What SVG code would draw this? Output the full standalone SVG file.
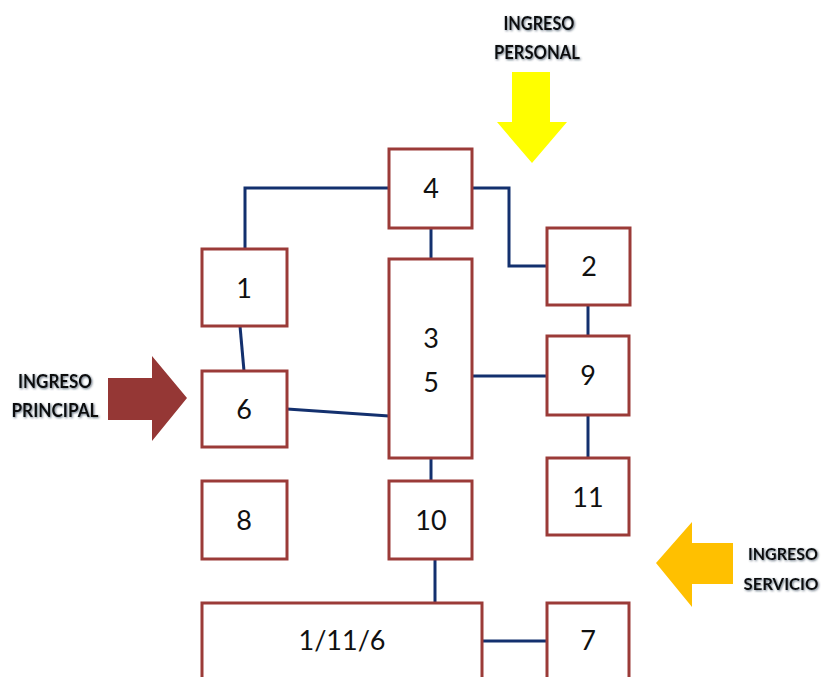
<svg xmlns="http://www.w3.org/2000/svg" width="826" height="677" viewBox="0 0 826 677">
<defs>
<style>
.box{fill:#fff;stroke:#9B3B38;stroke-width:3}
.lbl{font-family:Lato,"Open Sans","Liberation Sans",sans-serif;font-size:27px;fill:#111;text-anchor:middle}
.con{fill:none;stroke:#13306E;stroke-width:3}
.tag{font-family:Lato,"Liberation Sans",sans-serif;font-weight:bold;font-size:19px;fill:#111;text-anchor:middle;filter:url(#sh)}
.sm{font-size:17px}
</style>
<filter id="sh" x="-4%" y="-20%" width="108%" height="140%">
<feDropShadow dx="1" dy="1" stdDeviation="1.1" flood-color="#2a3a50" flood-opacity="0.7"/>
</filter>
</defs>
<g id="connectors">
<polyline class="con" points="389,188 245,188 245,249"/>
<polyline class="con" points="472,188 509,188 509,266 547,266"/>
<line class="con" x1="431" y1="228" x2="431" y2="259"/>
<line class="con" x1="240" y1="326" x2="244" y2="371"/>
<line class="con" x1="287" y1="409" x2="389" y2="416"/>
<line class="con" x1="472" y1="376" x2="547" y2="376"/>
<line class="con" x1="588" y1="305" x2="588" y2="336"/>
<line class="con" x1="588" y1="415" x2="588" y2="458"/>
<line class="con" x1="431" y1="458" x2="431" y2="481"/>
<line class="con" x1="435" y1="559" x2="435" y2="603"/>
<line class="con" x1="482" y1="641" x2="547" y2="641"/>
</g>
<g id="n4"><rect class="box" x="389" y="149" width="83" height="79"/><text class="lbl" x="431" y="198">4</text></g>
<g id="n1"><rect class="box" x="202" y="249" width="85" height="77"/><text class="lbl" x="244" y="298">1</text></g>
<g id="n35"><rect class="box" x="389" y="259" width="83" height="199"/><text class="lbl" x="431" y="348">3</text><text class="lbl" x="431" y="392">5</text></g>
<g id="n2"><rect class="box" x="547" y="228" width="83" height="77"/><text class="lbl" x="589" y="276">2</text></g>
<g id="n9"><rect class="box" x="547" y="336" width="82" height="79"/><text class="lbl" x="588" y="385">9</text></g>
<g id="n6"><rect class="box" x="202" y="371" width="85" height="76"/><text class="lbl" x="244" y="419">6</text></g>
<g id="n11"><rect class="box" x="547" y="458" width="82" height="77"/><text class="lbl" x="588" y="507">11</text></g>
<g id="n8"><rect class="box" x="202" y="481" width="85" height="78"/><text class="lbl" x="244" y="530">8</text></g>
<g id="n10"><rect class="box" x="389" y="481" width="83" height="78"/><text class="lbl" x="431" y="530">10</text></g>
<g id="n1116"><rect class="box" x="202" y="603" width="280" height="90"/><text class="lbl" x="342" y="650">1/11/6</text></g>
<g id="n7"><rect class="box" x="547" y="603" width="82" height="90"/><text class="lbl" x="588" y="650">7</text></g>
<g id="personal">
<polygon points="512,72 550,72 550,122 567,122 532,163 497,122 512,122" fill="#FFFF00"/>
<text class="tag" x="539" y="30" textLength="71" lengthAdjust="spacingAndGlyphs">INGRESO</text>
<text class="tag" x="537" y="59" textLength="86" lengthAdjust="spacingAndGlyphs">PERSONAL</text>
</g>
<g id="principal">
<polygon points="108,378 152,378 152,356 187,398 152,441 152,420 108,420" fill="#953735"/>
<text class="tag" x="55" y="388" textLength="74" lengthAdjust="spacingAndGlyphs">INGRESO</text>
<text class="tag" x="55" y="417" textLength="87" lengthAdjust="spacingAndGlyphs">PRINCIPAL</text>
</g>
<g id="servicio">
<polygon points="733,543 692,543 692,522 656,563 692,607 692,584 733,584" fill="#FFC000"/>
<text class="tag sm" x="783" y="560" textLength="70" lengthAdjust="spacingAndGlyphs">INGRESO</text>
<text class="tag sm" x="781" y="590" textLength="75" lengthAdjust="spacingAndGlyphs">SERVICIO</text>
</g>
</svg>
